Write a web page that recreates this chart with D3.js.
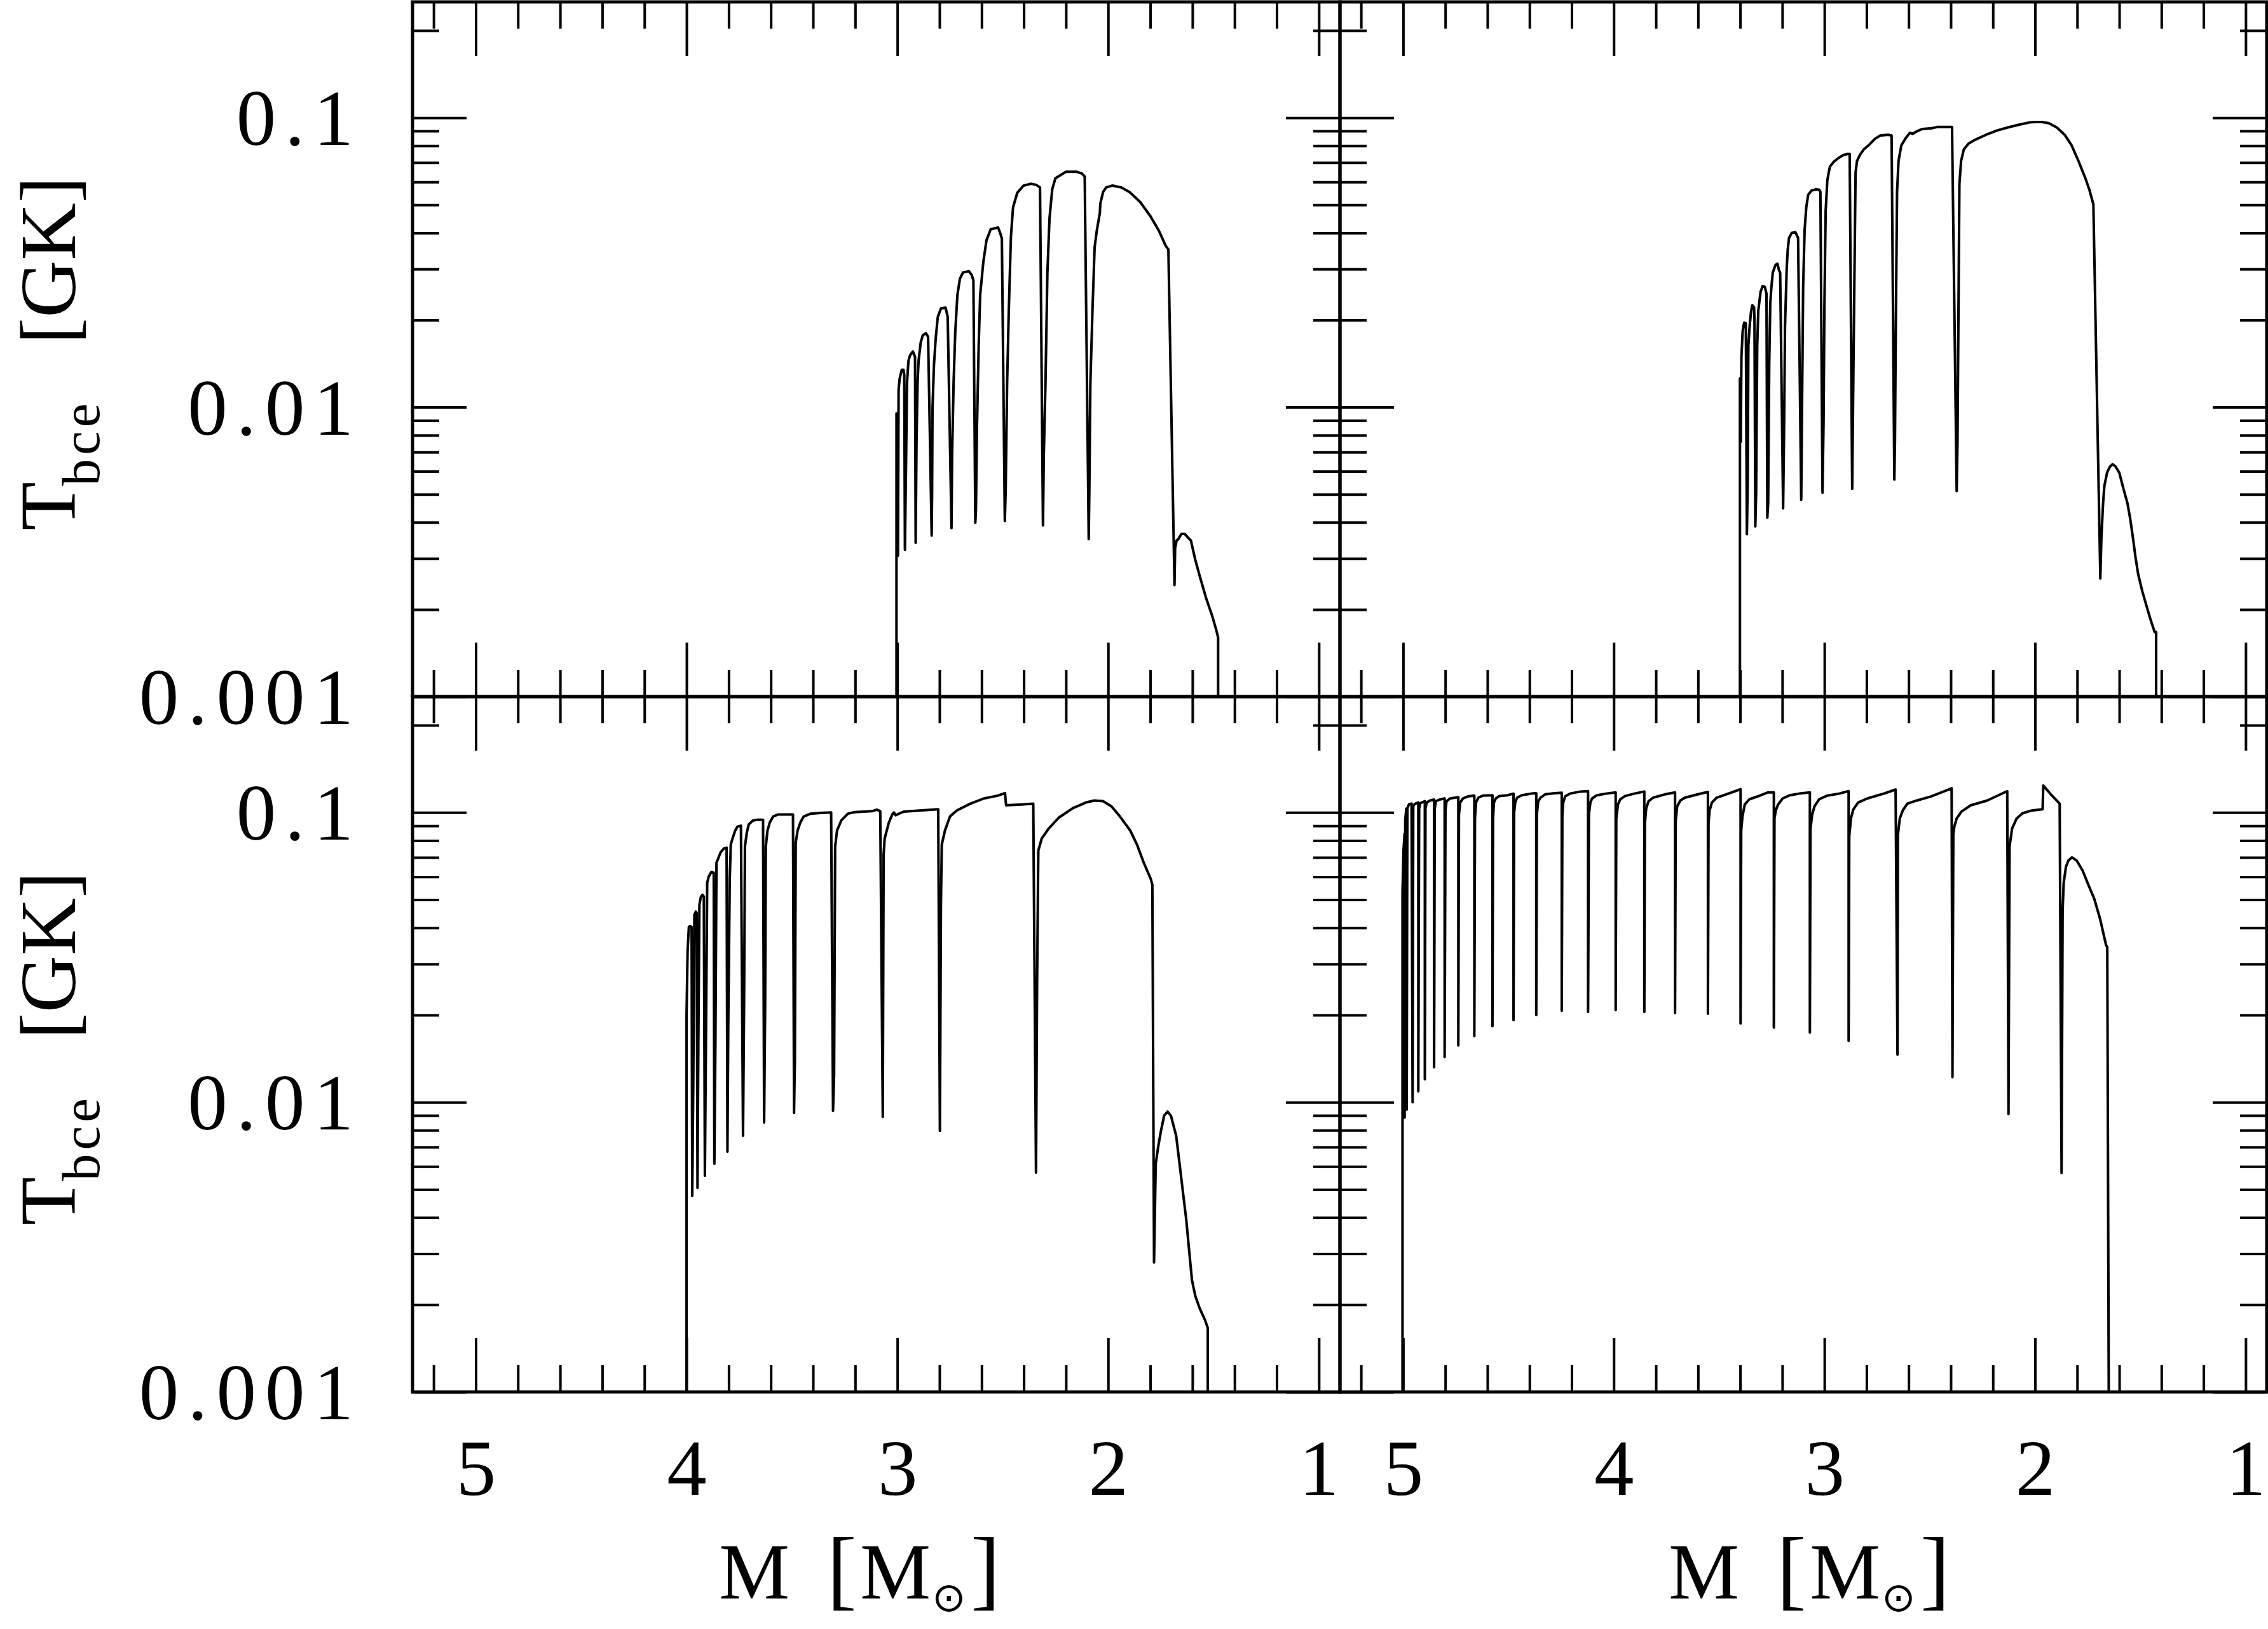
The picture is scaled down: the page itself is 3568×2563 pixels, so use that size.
<!DOCTYPE html>
<html>
<head>
<meta charset="utf-8" />
<title>Tbce versus stellar mass</title>
<style>
  body { margin: 0; background: #fff; }
  svg text { font-family: "Liberation Serif", "DejaVu Serif", serif; fill: #000; }
  .tick line { stroke: #000; stroke-width: 4px; }
  .frame { fill: none; stroke: #000; stroke-width: 5px; }
  .curve { fill: none; stroke: #000; stroke-width: 4px; stroke-linejoin: round; }
</style>
</head>
<body>
<svg id="chart" width="3568" height="2563"></svg>
<script src="https://d3js.org/d3.v7.min.js"></script>
<script>

// ---------------- data: [mass (Msun), T_bce (GK)] ----------------
var curveTopLeft = [
  [3.004,0.001],[3.004,0.00951],[2.997,0.00307],[2.994,0.01149],[2.989,0.01253],[2.979,0.01347],[2.971,0.01347],[2.967,0.0129],[2.964,0.00321],
  [2.959,0.00607],[2.954,0.01217],[2.947,0.01449],[2.939,0.01513],[2.926,0.01557],[2.916,0.01491],[2.913,0.0034],
  [2.909,0.00743],[2.904,0.01217],[2.899,0.01449],[2.889,0.01674],[2.879,0.01774],[2.864,0.018],[2.854,0.01749],[2.837,0.0036],
  [2.835,0.0051],[2.833,0.00994],[2.826,0.01407],[2.818,0.01724],[2.808,0.0205],[2.793,0.02193],[2.771,0.02207],[2.761,0.0205],[2.743,0.00382],
  [2.740,0.00682],[2.733,0.01217],[2.725,0.01827],[2.715,0.0244],[2.703,0.0278],[2.688,0.0292],[2.660,0.02947],[2.647,0.02862],[2.639,0.02742],[2.630,0.00399],
  [2.627,0.00441],[2.622,0.0086],[2.614,0.01627],[2.607,0.0244],[2.592,0.0317],[2.577,0.03772],[2.557,0.04115],[2.522,0.04175],[2.512,0.03997],[2.504,0.03827],[2.490,0.00404],
  [2.486,0.0051],[2.479,0.01217],[2.471,0.02174],[2.461,0.03883],[2.451,0.04896],[2.431,0.055],[2.401,0.05828],[2.366,0.05913],[2.341,0.05861],[2.323,0.05743],[2.309,0.0039],
  [2.305,0.00682],[2.297,0.01217],[2.288,0.02905],[2.278,0.04489],[2.265,0.0566],[2.250,0.06175],[2.200,0.06505],[2.150,0.06505],[2.124,0.06412],[2.111,0.06266],[2.092,0.0035],
  [2.089,0.0051],[2.084,0.01217],[2.074,0.02174],[2.064,0.03559],[2.054,0.04055],[2.039,0.04688],[2.037,0.05041],[2.024,0.05533],[2.009,0.05743],[1.979,0.05828],
  [1.938,0.05743],[1.898,0.05533],[1.848,0.05115],[1.798,0.04554],[1.758,0.04055],[1.727,0.03611],[1.714,0.03507],[1.685,0.00243],
  [1.682,0.00326],[1.675,0.00346],[1.667,0.0035],[1.652,0.00365],[1.637,0.00365],[1.622,0.00355],[1.607,0.00346],[1.587,0.00298],[1.566,0.00262],
  [1.536,0.0022],[1.506,0.0019],[1.486,0.00169],[1.478,0.0016],[1.478,0.001]
];

var curveTopRight = [
  [3.401,0.001],[3.401,0.01257],[3.397,0.00759],[3.394,0.01488],[3.388,0.01832],[3.381,0.01959],[3.373,0.01948],[3.368,0.00364],
  [3.364,0.00558],[3.361,0.01631],[3.355,0.01901],[3.348,0.02148],[3.342,0.02249],[3.334,0.02215],[3.332,0.0202],[3.328,0.00387],
  [3.324,0.00509],[3.319,0.01631],[3.314,0.02148],[3.303,0.02504],[3.293,0.0262],[3.283,0.02604],[3.275,0.02466],[3.271,0.00415],
  [3.267,0.00465],[3.262,0.014],[3.257,0.02284],[3.252,0.0258],[3.245,0.02918],[3.232,0.03102],[3.223,0.0313],[3.215,0.02963],[3.210,0.02918],[3.196,0.00447],
  [3.192,0.00759],[3.187,0.01901],[3.179,0.0301],[3.174,0.03506],[3.168,0.03845],[3.155,0.04],[3.138,0.04024],[3.125,0.03845],[3.110,0.00479],
  [3.106,0.0103],[3.101,0.0258],[3.094,0.04087],[3.086,0.04911],[3.077,0.05416],[3.061,0.05601],[3.039,0.05653],[3.025,0.05636],[3.019,0.05551],[3.009,0.00506],
  [3.004,0.00884],[3.000,0.02215],[2.994,0.04764],[2.986,0.06084],[2.974,0.06773],[2.955,0.07048],[2.935,0.07244],[2.910,0.07425],[2.890,0.07493],[2.880,0.07493],[2.868,0.00522],
  [2.862,0.014],[2.855,0.04087],[2.852,0.06467],[2.845,0.07091],[2.832,0.07425],[2.813,0.07773],[2.787,0.08064],[2.761,0.08442],[2.735,0.08679],[2.697,0.08733],[2.681,0.08679],[2.668,0.00562],
  [2.665,0.00759],[2.661,0.01901],[2.655,0.05551],[2.648,0.07091],[2.635,0.08015],[2.613,0.08521],[2.594,0.08867],[2.581,0.08786],[2.561,0.08976],[2.535,0.09143],[2.490,0.09199],[2.465,0.09284],[2.394,0.09284],[2.372,0.00513],
  [2.368,0.00759],[2.364,0.01901],[2.359,0.05902],[2.351,0.07091],[2.338,0.07773],[2.316,0.08139],[2.284,0.08391],[2.232,0.08733],[2.181,0.09032],[2.129,0.09256],[2.077,0.09456],
  [2.026,0.09632],[2.000,0.09661],[1.968,0.09661],[1.935,0.09572],[1.897,0.09256],[1.858,0.08706],[1.826,0.08015],[1.794,0.07091],[1.761,0.06178],[1.742,0.05636],[1.723,0.05017],[1.690,0.00256],
  [1.685,0.00353],[1.677,0.00465],[1.671,0.00533],[1.658,0.00594],[1.645,0.00622],[1.632,0.00635],[1.619,0.00625],[1.600,0.00594],[1.581,0.00525],[1.561,0.00465],
  [1.548,0.00411],[1.535,0.00353],[1.523,0.00303],[1.510,0.00264],[1.490,0.0023],[1.471,0.00206],[1.452,0.00185],[1.432,0.00167],[1.425,0.00167],[1.425,0.001]
];

var curveBottomLeft = [
  [4.000,0.001],[4.000,0.01996],[3.995,0.03327],[3.989,0.04028],[3.982,0.04054],[3.976,0.04028],[3.973,0.00475],
  [3.968,0.0116],[3.963,0.04432],[3.956,0.04547],[3.952,0.04503],[3.948,0.00506],
  [3.944,0.01596],[3.939,0.048],[3.932,0.05118],[3.924,0.052],[3.918,0.05118],[3.913,0.00557],
  [3.908,0.01596],[3.902,0.05722],[3.895,0.06003],[3.882,0.06237],[3.871,0.06197],[3.868,0.00613],
  [3.863,0.01596],[3.858,0.06713],[3.850,0.06931],[3.839,0.07272],[3.823,0.07508],[3.810,0.07557],[3.806,0.00675],
  [3.802,0.01873],[3.795,0.05908],[3.790,0.07751],[3.782,0.08128],[3.769,0.08664],[3.758,0.08944],[3.742,0.09002],[3.732,0.00766],
  [3.727,0.02197],[3.723,0.07627],[3.714,0.08527],[3.705,0.09089],[3.685,0.09384],[3.661,0.09445],[3.637,0.09445],[3.632,0.00851],
  [3.627,0.02197],[3.624,0.07627],[3.616,0.08664],[3.605,0.09237],[3.589,0.0969],[3.565,0.09845],[3.495,0.09845],[3.490,0.00919],
  [3.486,0.01405],[3.482,0.07875],[3.473,0.08664],[3.460,0.09237],[3.444,0.0969],[3.411,0.09908],[3.363,0.09972],[3.314,0.1],[3.305,0.00934],
  [3.300,0.01237],[3.295,0.07627],[3.286,0.08664],[3.266,0.09384],[3.234,0.09908],[3.202,0.1003],[3.121,0.101],[3.097,0.1023],[3.081,0.101],[3.069,0.0089],
  [3.065,0.07156],[3.060,0.08128],[3.040,0.09237],[3.024,0.09845],[3.016,0.1],[3.008,0.09781],[2.992,0.09908],[2.968,0.1007],[2.895,0.1016],[2.806,0.1026],[2.798,0.00796],
  [2.793,0.04877],[2.789,0.07751],[2.774,0.08664],[2.750,0.0969],[2.718,0.1016],[2.653,0.1073],[2.589,0.1118],[2.524,0.1143],[2.489,0.1166],[2.484,0.1059],[2.411,0.1066],[2.355,0.1073],[2.342,0.00571],
  [2.337,0.02495],[2.331,0.07389],[2.315,0.08128],[2.282,0.08803],[2.234,0.09596],[2.169,0.1033],[2.105,0.1083],[2.065,0.11],[2.024,0.1094],[1.984,0.105],
  [1.944,0.0969],[1.895,0.08664],[1.863,0.07751],[1.831,0.06713],[1.798,0.05908],[1.790,0.05631],[1.782,0.0028],
  [1.774,0.00613],[1.763,0.00697],[1.750,0.00791],[1.734,0.00899],[1.718,0.00928],[1.702,0.00899],[1.677,0.00766],[1.661,0.00613],[1.645,0.0049],
  [1.629,0.00392],[1.613,0.00294],[1.602,0.00243],[1.586,0.00214],[1.565,0.00194],[1.540,0.00177],[1.527,0.00166],[1.527,0.001]
];

var curveBottomRight = [
  [5.003,0.001],[5.003,0.0534],[4.998,0.0746],[4.993,0.0846],[4.993,0.00886],[4.990,0.0942],[4.985,0.1031],[4.983,0.00943],
  [4.980,0.1031],[4.972,0.1069],[4.960,0.1073],[4.955,0.01],
  [4.952,0.105],[4.946,0.1069],[4.928,0.1083],[4.928,0.0109],
  [4.924,0.1033],[4.919,0.1076],[4.897,0.1094],[4.897,0.012],
  [4.894,0.1033],[4.888,0.1083],[4.872,0.11],[4.853,0.1108],[4.853,0.0132],
  [4.850,0.1033],[4.844,0.1094],[4.827,0.1108],[4.803,0.1118],[4.803,0.0143],
  [4.799,0.1016],[4.794,0.1094],[4.777,0.1118],[4.738,0.1129],[4.738,0.0157],
  [4.735,0.0985],[4.729,0.1083],[4.716,0.1118],[4.693,0.1136],[4.662,0.1144],[4.662,0.0169],
  [4.659,0.0954],[4.654,0.1083],[4.643,0.1125],[4.621,0.1144],[4.576,0.1147],[4.576,0.0183],
  [4.573,0.0954],[4.569,0.1083],[4.560,0.1118],[4.543,0.114],[4.504,0.1147],[4.476,0.1162],[4.476,0.0192],
  [4.473,0.1],[4.468,0.1083],[4.459,0.1125],[4.437,0.1147],[4.392,0.1162],[4.368,0.1166],[4.368,0.02],
  [4.365,0.0985],[4.359,0.109],[4.348,0.1125],[4.326,0.1155],[4.281,0.1166],[4.247,0.117],[4.247,0.0207],
  [4.244,0.0985],[4.240,0.1083],[4.231,0.1136],[4.208,0.1162],[4.158,0.1181],[4.122,0.1185],[4.122,0.0205],
  [4.118,0.0985],[4.111,0.1083],[4.103,0.1118],[4.080,0.1147],[4.036,0.1162],[3.991,0.1173],[3.991,0.0208],
  [3.988,0.0954],[3.980,0.1066],[3.969,0.1111],[3.946,0.114],[3.902,0.1162],[3.855,0.1181],[3.855,0.0205],
  [3.852,0.0924],[3.846,0.1033],[3.835,0.1094],[3.813,0.1125],[3.757,0.1155],[3.709,0.1173],[3.709,0.0203],
  [3.706,0.0938],[3.699,0.105],[3.684,0.11],[3.662,0.1125],[3.601,0.1155],[3.553,0.1177],[3.553,0.0202],
  [3.550,0.0924],[3.545,0.1016],[3.534,0.1083],[3.512,0.1125],[3.456,0.1162],[3.398,0.1203],[3.398,0.0187],
  [3.395,0.0866],[3.389,0.0969],[3.378,0.1066],[3.356,0.1111],[3.311,0.114],[3.269,0.1173],[3.240,0.1173],[3.240,0.0181],
  [3.237,0.0954],[3.231,0.1016],[3.220,0.1066],[3.198,0.1118],[3.164,0.1147],[3.119,0.1162],[3.069,0.1173],[3.069,0.0174],
  [3.066,0.088],[3.058,0.0985],[3.047,0.105],[3.025,0.1111],[2.985,0.1144],[2.930,0.1162],[2.885,0.1185],[2.885,0.0163],
  [2.882,0.0826],[2.874,0.0954],[2.863,0.1023],[2.840,0.1083],[2.796,0.1118],[2.718,0.1162],[2.662,0.12],[2.653,0.0146],
  [2.651,0.0839],[2.642,0.0954],[2.628,0.1016],[2.606,0.1073],[2.561,0.11],[2.494,0.1136],[2.396,0.1212],[2.392,0.0122],
  [2.388,0.0839],[2.383,0.0894],[2.372,0.0954],[2.349,0.1007],[2.305,0.1059],[2.227,0.11],[2.132,0.1185],[2.126,0.0091],
  [2.121,0.0763],[2.109,0.088],[2.087,0.0954],[2.059,0.0994],[2.015,0.1016],[1.964,0.1026],[1.961,0.1239],[1.925,0.1155],[1.883,0.1073],[1.874,0.0057],
  [1.869,0.0458],[1.864,0.0572],[1.853,0.065],[1.842,0.0682],[1.825,0.07],[1.802,0.0682],[1.774,0.063],[1.747,0.0563],[1.719,0.0504],
  [1.691,0.0429],[1.663,0.0349],[1.657,0.0343],[1.650,0.001]
];

// ---------------- axes ----------------
var massDomain = [5.3, 0.9];
var tempDomain = [0.001, Math.pow(10, -0.6)];
var massMajor = [5, 4, 3, 2, 1];
var massMinor = [5.2, 4.8, 4.6, 4.4, 4.2, 3.8, 3.6, 3.4, 3.2, 2.8, 2.6, 2.4, 2.2, 1.8, 1.6, 1.4, 1.2];
var tempMajor = [0.001, 0.01, 0.1];
var tempLabels = ["0.001", "0.01", "0.1"];
var tempMinor = [0.002, 0.003, 0.004, 0.005, 0.006, 0.007, 0.008, 0.009,
                 0.02, 0.03, 0.04, 0.05, 0.06, 0.07, 0.08, 0.09, 0.2];

var svg = d3.select("#chart");
svg.append("rect").attr("width", 3568).attr("height", 2563).attr("fill", "#fff");

var cols = [{x0: 649, x1: 2108}, {x0: 2108, x1: 3566}];
var rows = [{y0: 3, y1: 1096}, {y0: 1096, y1: 2190}];

var panels = [
  {row: 0, col: 0, data: curveTopLeft},
  {row: 0, col: 1, data: curveTopRight},
  {row: 1, col: 0, data: curveBottomLeft},
  {row: 1, col: 1, data: curveBottomRight}
];

var bigTick = 85, smallTick = 42, fontSize = 125;

function tickAxis(g, axis, tx, ty) {
  var a = g.append("g").attr("transform", "translate(" + tx + "," + ty + ")").call(axis);
  a.select(".domain").remove();
  a.selectAll("text").remove();
  return a;
}

panels.forEach(function(p) {
  var c = cols[p.col], r = rows[p.row];
  var x = d3.scaleLinear().domain(massDomain).range([c.x0, c.x1]);
  var y = d3.scaleLog().domain(tempDomain).range([r.y1, r.y0]);
  var g = svg.append("g");

  // inward ticks on all four sides, major and minor
  [[massMajor, bigTick], [massMinor, smallTick]].forEach(function(t) {
    tickAxis(g, d3.axisBottom(x).tickValues(t[0]).tickSize(-t[1]), 0, r.y1);
    tickAxis(g, d3.axisTop(x).tickValues(t[0]).tickSize(-t[1]), 0, r.y0);
  });
  [[tempMajor, bigTick], [tempMinor, smallTick]].forEach(function(t) {
    tickAxis(g, d3.axisLeft(y).tickValues(t[0]).tickSize(-t[1]), c.x0, 0);
    tickAxis(g, d3.axisRight(y).tickValues(t[0]).tickSize(-t[1]), c.x1, 0);
  });

  g.append("rect").attr("class", "frame")
    .attr("x", c.x0).attr("y", r.y0)
    .attr("width", c.x1 - c.x0).attr("height", r.y1 - r.y0);

  var line = d3.line()
    .x(function(d) { return x(d[0]); })
    .y(function(d) { return y(d[1]); });

  g.append("path").attr("class", "curve").attr("d", line(p.data));

  // y tick labels on the left column
  if (p.col === 0) {
    var ya = g.append("g").attr("transform", "translate(" + c.x0 + ",0)")
      .call(d3.axisLeft(y).tickValues(tempMajor).tickSize(0).tickPadding(79)
        .tickFormat(function(d, i) { return tempLabels[i]; }));
    ya.select(".domain").remove();
    ya.selectAll("text")
      .attr("font-size", fontSize)
      .attr("letter-spacing", 14)
      .attr("dy", "0.34em");
    ya.attr("font-family", null).attr("font-size", null);

    // y title, rotated
    var ty = (r.y0 + r.y1) / 2 + 285;
    var yt = g.append("text")
      .attr("transform", "translate(118," + ty + ") rotate(-90)")
      .attr("font-size", fontSize);
    yt.append("tspan").attr("x", 0).text("T");
    yt.append("tspan").attr("x", 70).attr("dy", 38).attr("font-size", 85)
      .attr("letter-spacing", 6).text("bce");
    yt.append("tspan").attr("x", 293).attr("dy", -38).text("[GK]");
  }

  // x tick labels and title on the bottom row
  if (p.row === 1) {
    var xa = g.append("g").attr("transform", "translate(0," + r.y1 + ")")
      .call(d3.axisBottom(x).tickValues(massMajor).tickSize(0).tickPadding(73)
        .tickFormat(d3.format("d")));
    xa.select(".domain").remove();
    xa.selectAll("text").attr("font-size", fontSize);
    xa.attr("font-family", null).attr("font-size", null);

    var cx = p.col === 0 ? 1339 : 2833;
    var s = cx - 208;
    var xt = g.append("text").attr("y", 2515).attr("font-size", fontSize);
    xt.append("tspan").attr("x", s).text("M");
    xt.append("tspan").attr("x", s + 170).attr("font-size", 140).text("[");
    xt.append("tspan").attr("x", s + 222).text("M");
    xt.append("tspan").attr("x", s + 335).attr("dy", 20).attr("font-size", 64)
      .attr("font-family", "DejaVu Sans").text("\u2299");
    xt.append("tspan").attr("x", s + 396).attr("dy", -20).attr("font-size", 140).text("]");
  }
});

</script>
</body>
</html>
